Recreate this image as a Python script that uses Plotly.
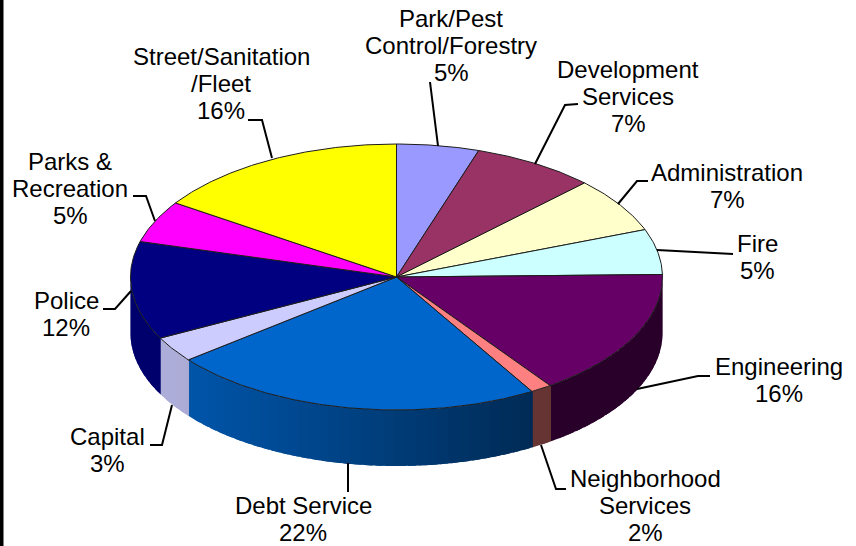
import numpy as np
import plotly.graph_objects as go

# ---- data (clockwise from 12 o'clock)
categories = ["Park/Pest\nControl/Forestry", "Development\nServices", "Administration", "Fire",
              "Engineering", "Neighborhood\nServices", "Debt Service", "Capital", "Police",
              "Parks &\nRecreation", "Street/Sanitation\n/Fleet"]
percent_labels = ["5%", "7%", "7%", "5%", "16%", "2%", "22%", "3%", "12%", "5%", "16%"]
slice_values = [5.0, 7.5, 6.7, 5.5, 15.5, 1.3, 22.8, 3.1, 11.9, 5.1, 15.6]
slice_colors = ["#9999FF", "#993366", "#FFFFCC", "#CCFFFF", "#660066", "#FF8080",
                "#0066CC", "#CCCCFF", "#000080", "#FF00FF", "#FFFF00"]

# ---- layout (pixels of the page)
W, H = 856, 546
CX, CY, RX, RY, DEPTH = 396.5, 277, 266, 133, 56
LABEL_PITCH = 27
label_pos = [(451, 18), (628, 69), (727, 172), (757, 243), (779, 366), (645, 478),
             (303, 505), (107, 436), (66, 300), (70, 161), (221, 56)]
leaders = [
    [(430, 82), (438, 146)],
    [(578, 104), (565, 105), (535, 164)],
    [(648, 181), (637, 181), (618, 204)],
    [(733, 254), (657, 250)],
    [(710, 376), (698, 376), (637, 389)],
    [(566, 489), (556, 489), (541, 445)],
    [(348, 492), (348, 463)],
    [(150, 445), (162, 445), (172, 405)],
    [(103, 309), (115, 309), (131, 291)],
    [(133, 196), (146, 196), (155, 221)],
    [(248, 120), (262, 120), (272, 158)],
]


def px(theta):
    return CX + RX * np.sin(theta), CY - RY * np.cos(theta)


def hex_rgb(c):
    return tuple(int(c[i:i + 2], 16) for i in (1, 3, 5))


def shade(c, xpos):
    m = np.clip(0.85 - 0.45 * (xpos - 170) / 370, 0.40, 0.85)
    r, g, b = hex_rgb(c)
    return f"rgb({r * m:.0f},{g * m:.0f},{b * m:.0f})"


fig = go.Figure()
edges = 2 * np.pi * np.cumsum([0] + slice_values) / sum(slice_values)

# side walls (front half only); each strip overlaps the one drawn before it
for a0, a1, col in zip(edges[:-1], edges[1:], slice_colors):
    lo, hi = max(a0, np.pi / 2), min(a1, 3 * np.pi / 2)
    if hi <= lo:
        continue
    n = max(1, int((hi - lo) / 0.04))
    cuts = np.linspace(lo, hi, n + 1)
    for j, (t0, t1) in enumerate(zip(cuts[:-1], cuts[1:])):
        start = max(lo, t0 - 0.03) if j else max(np.pi / 2, t0 - 0.004)
        ts = np.linspace(start, t1, 6)
        x, y = px(ts)
        c = shade(col, px(np.array([(t0 + t1) / 2]))[0][0])
        fig.add_trace(go.Scatter(
            x=list(x) + list(x[::-1]) + [x[0]],
            y=list(y) + list((y + DEPTH)[::-1]) + [y[0]],
            mode="none", fill="toself", fillcolor=c,
            hoverinfo="skip", showlegend=False))

# top faces
for a0, a1, col in zip(edges[:-1], edges[1:], slice_colors):
    ts = np.linspace(a0, a1, max(3, int((a1 - a0) / 0.01)))
    x, y = px(ts)
    fig.add_trace(go.Scatter(
        x=[CX] + list(x) + [CX], y=[CY] + list(y) + [CY],
        mode="lines", fill="toself", fillcolor=col,
        line=dict(color="#1c1c1c", width=1), hoverinfo="skip", showlegend=False))

# leader lines
for pts in leaders:
    fig.add_trace(go.Scatter(x=[p[0] for p in pts], y=[p[1] for p in pts], mode="lines",
                             line=dict(color="black", width=2), hoverinfo="skip", showlegend=False))

# labels, one annotation per line for the tight line pitch
annotations = []
for cat, pct, (lx, ly) in zip(categories, percent_labels, label_pos):
    for i, line in enumerate(cat.split("\n") + [pct]):
        annotations.append(dict(x=lx, y=ly + i * LABEL_PITCH, xref="x", yref="y", text=line,
                                showarrow=False, xanchor="center", yanchor="middle",
                                font=dict(family="Liberation Sans", size=24, color="black")))

fig.update_layout(
    width=W, height=H, margin=dict(l=0, r=0, t=0, b=0),
    paper_bgcolor="white", plot_bgcolor="white", showlegend=False,
    xaxis=dict(range=[0, W], visible=False, fixedrange=True),
    yaxis=dict(range=[H, 0], visible=False, fixedrange=True),
    annotations=annotations,
    shapes=[dict(type="rect", xref="x", yref="y", x0=0, x1=3.5, y0=0, y1=H,
                 fillcolor="black", line=dict(width=0))],
)
fig.write_html("out.html", post_script="document.body.style.margin='0';document.body.style.overflow='hidden';",
               config={"displayModeBar": False})
